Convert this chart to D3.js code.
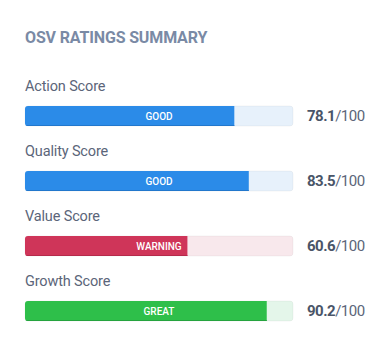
<!DOCTYPE html>
<html><head><meta charset="utf-8">
<script src="https://cdn.jsdelivr.net/npm/d3@7"></script>
<style>
html,body{margin:0;padding:0;background:#fff;}
svg{display:block;font-family:Roboto,"Noto Sans",sans-serif;}
</style></head>
<body><svg id="c" width="384" height="347"></svg>
<script>
const categories = ["Action Score","Quality Score","Value Score","Growth Score"];
const values = [78.1, 83.5, 60.6, 90.2];
const statuses = ["GOOD","GOOD","WARNING","GREAT"];
const maxValue = 100;
const title = "OSV RATINGS SUMMARY";

const palette = {
  GOOD: {fill:"#2b8be8", bg:"#e7f1fb", edge:"#2277cc"},
  WARNING: {fill:"#cf3559", bg:"#f8e8ec", edge:"#b52a4b"},
  GREAT: {fill:"#2ebf4a", bg:"#e4f6ea", edge:"#25a33e"}
};

const svg = d3.select("#c");
const x = d3.scaleLinear().domain([0, maxValue]).range([25, 293]);
const y = d3.scaleBand().domain(categories).range([71, 331]).paddingInner(0);

svg.append("text").attr("x",25).attr("y",43)
  .attr("font-size",16).attr("font-weight",700).attr("fill","#7a8aa5")
  .attr("letter-spacing",-0.15)
  .text(title);

const g = svg.selectAll("g.row").data(categories).join("g").attr("class","row")
  .attr("transform", d => `translate(0,${y(d)})`);

g.append("text").attr("x",25).attr("y",20)
  .attr("font-size",14.5).attr("letter-spacing",-0.15).attr("fill","#5b6579").text(d=>d);

g.append("rect").attr("x",x(0)).attr("y",35).attr("width",x(maxValue)-x(0)).attr("height",20)
  .attr("rx",3).attr("fill",(d,i)=>palette[statuses[i]].bg)
  .attr("stroke","rgba(0,0,0,0.04)");

g.append("clipPath").attr("id",(d,i)=>"cp"+i).append("rect")
  .attr("x",x(0)).attr("y",35).attr("width",x(maxValue)-x(0)).attr("height",20).attr("rx",3);

const fg = g.append("g").attr("clip-path",(d,i)=>`url(#cp${i})`);
fg.append("rect").attr("x",x(0)).attr("y",35).attr("width",(d,i)=>x(values[i])-x(0)).attr("height",20)
  .attr("fill",(d,i)=>palette[statuses[i]].fill);
fg.append("rect").attr("x",x(0)).attr("y",54).attr("width",(d,i)=>x(values[i])-x(0)).attr("height",1)
  .attr("fill",(d,i)=>palette[statuses[i]].edge);

g.append("text").attr("x",(x(0)+x(maxValue))/2).attr("y",45).attr("dy","0.35em")
  .attr("text-anchor","middle").attr("font-size",10).attr("font-weight",500)
  .attr("fill","#fff").text((d,i)=>statuses[i]);

const vt = g.append("text").attr("x",307).attr("y",45).attr("dy","0.35em")
  .attr("font-size",15).attr("letter-spacing",-0.5).attr("fill","#4a5568");
vt.append("tspan").attr("font-weight",700).text((d,i)=>values[i].toFixed(1));
vt.append("tspan").attr("fill","#5b6579").text("/"+maxValue);
</script></body></html>
